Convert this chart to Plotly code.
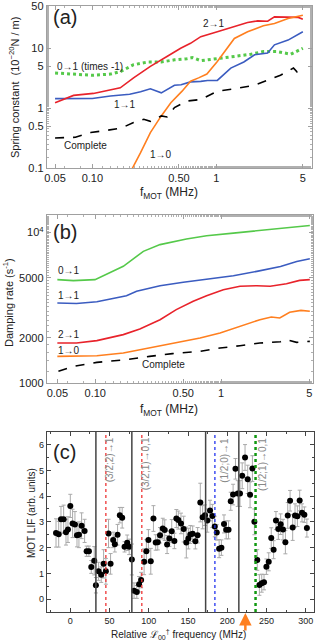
import math
import plotly.graph_objects as go

# ---------------- Panel (a): spring constant ----------------
a_f_21 = [0.05, 0.0705, 0.102, 0.168, 0.215, 0.294, 0.40, 0.516, 0.62, 0.75, 1.02, 1.4, 1.79, 2.16, 2.6, 2.95, 4.0, 4.6, 5.0]
a_k_21 = [1.23, 1.63, 1.76, 2.18, 3.19, 4.98, 7.3, 10.0, 12.1, 15.6, 18.9, 22.8, 26.9, 28.7, 28.3, 33.4, 32.5, 32.8, 30.5]

a_f_10 = [0.20, 0.21, 0.245, 0.294, 0.36, 0.43, 0.53, 0.62, 0.72, 0.84, 1.02, 1.4, 1.79, 2.4, 2.95, 3.8, 5.0]
a_k_10 = [0.085, 0.098, 0.18, 0.39, 0.74, 1.23, 1.92, 2.81, 3.2, 3.7, 6.0, 14.6, 18.9, 23.7, 26.0, 31.4, 35.5]

a_f_11 = [0.05, 0.1, 0.14, 0.2, 0.245, 0.294, 0.36, 0.40, 0.46, 0.52, 0.62, 0.75, 0.85, 1.02, 1.31, 1.67, 2.04, 2.6, 2.95, 3.8, 5.0]
a_k_11 = [1.44, 1.45, 1.59, 1.7, 1.87, 2.1, 1.8, 2.05, 2.41, 2.45, 2.74, 2.8, 2.9, 2.9, 4.67, 5.9, 7.8, 8.3, 11.4, 13.7, 18.9]

a_f_01 = [0.05, 0.075, 0.1, 0.14, 0.17, 0.215, 0.28, 0.36, 0.46, 0.58, 0.64, 0.75, 1.02, 1.4, 1.9, 2.4, 3.1, 4.0, 5.0]
a_k_01 = [3.86, 3.7, 3.53, 3.7, 4.11, 5.3, 5.9, 5.9, 6.4, 6.7, 7.0, 6.2, 6.8, 7.3, 7.95, 8.8, 8.8, 7.95, 10.0]

a_f_all = [0.05, 0.073, 0.097, 0.13, 0.17, 0.215, 0.26, 0.294, 0.36, 0.4, 0.46, 0.58, 0.75, 1.02, 1.4, 2.04, 2.6, 3.3, 4.2, 4.5, 5.0]
a_k_all = [0.317, 0.325, 0.39, 0.42, 0.46, 0.575, 0.65, 0.6, 0.74, 0.71, 1.02, 1.31, 1.39, 1.92, 2.1, 2.41, 2.9, 3.53, 4.67, 4.0, 4.2]

# ---------------- Panel (b): damping rate ----------------
b_f_01 = [0.05, 0.067, 0.0995, 0.167, 0.241, 0.327, 0.53, 0.766, 1.25, 2.03, 2.92, 5.06]
b_d_01 = [4855, 4780, 4855, 5950, 7480, 8290, 9040, 9500, 9890, 10300, 10700, 11100]

b_f_11 = [0.05, 0.071, 0.103, 0.177, 0.213, 0.327, 0.5, 0.766, 1.25, 1.92, 2.96, 3.98, 5.06]
b_d_11 = [3400, 3370, 3465, 3800, 4060, 4425, 4660, 4900, 5150, 5510, 5940, 6410, 6680]

b_f_21 = [0.05, 0.071, 0.103, 0.167, 0.226, 0.327, 0.44, 0.6, 0.766, 1.04, 1.41, 1.92, 2.45, 3.3, 4.2, 5.06]
b_d_21 = [1842, 1842, 1911, 2095, 2280, 2632, 3070, 3485, 3800, 4160, 4385, 4425, 4385, 4560, 4800, 4855]

b_f_10 = [0.05, 0.103, 0.167, 0.27, 0.41, 0.68, 0.98, 1.41, 2.03, 2.5, 2.92, 3.5, 4.3, 5.06]
b_d_10 = [1503, 1515, 1581, 1706, 1823, 1989, 2148, 2378, 2632, 2740, 2700, 2945, 3036, 2994]

b_f_all = [0.051, 0.067, 0.103, 0.177, 0.27, 0.41, 0.68, 0.98, 1.41, 2.03, 2.96, 3.3, 3.98, 5.06]
b_d_all = [1195, 1290, 1371, 1428, 1503, 1566, 1623, 1706, 1769, 1842, 1880, 1940, 1860, 1890]

# ---------------- Panel (c): MOT LIF ----------------
c_x = [-18.2, -14.8, -11.9, -8.5, -5.5, -3.0, 0.0, 2.9, 5.9, 8.5, 11.0, 14.4, 18.2, 20.8, 23.7, 26.7, 30.5,
       32.6, 36.0, 39.4, 42.4, 45.3, 48.7, 51.3, 54.6, 56.7, 60.2, 63.1, 66.1, 69.1, 72.5, 75.0, 78.4,
       81.2, 84.7, 87.6, 90.2, 94.0, 96.9, 99.5, 102.5, 105.9, 108.8, 111.4, 114.3, 117.8, 120.3, 123.3, 126.2,
       129.2, 132.6, 135.1, 137.6, 141.0, 144.4, 147.8, 150.4, 152.9, 155.9, 159.3, 162.2,
       165.6, 168.6, 171.6, 174.6, 178.0, 181.0, 184.0, 186.6, 189.6, 192.5, 195.8, 198.6, 201.6, 204.4, 207.4,
       210.4, 213.3, 216.2, 219.0, 222.6, 226.0, 229.0, 232.0, 234.5, 238.2, 240.9, 243.9, 246.8, 249.8, 252.8,
       256.0, 259.0, 262.0, 265.0, 268.0, 271.0, 274.0, 277.0, 280.0, 283.3, 286.3, 289.3, 292.2, 295.2, 298.2, 301.4]
c_y = [2.57, 2.52, 3.1, 3.1, 2.6, 2.7, 3.62, 2.94, 2.9, 2.48, 2.5, 2.85, 2.65, 1.86, 1.86, 1.25, 1.49,
       0.54, 1.08, 0.95, 1.37, 1.08, 2.55, 1.37, 2.3, 2.13, 2.5, 3.26, 3.16, 2.03, 2.19, 2.03, 1.54,
       0.33, 0.28, 0.58, 0.74, 1.45, 1.86, 2.3, 1.47, 3.13, 2.2, 2.21, 2.48, 2.74, 2.68, 2.12, 2.35,
       2.64, 2.26, 3.13, 3.07, 2.94, 2.72, 2.2, 2.35, 2.51, 2.54, 2.25, 2.48,
       3.75, 3.18, 3.26, 3.05, 3.44, 3.23, 2.82, 2.59, 1.96, 2.0, 2.92, 2.69, 2.69, 3.8, 4.06,
       5.06, 4.1, 4.1, 4.79, 5.5, 4.65, 4.05, 5.07, 3.0, 1.52, 0.55, 0.62, 0.66, 1.26, 1.45,
       2.37, 1.92, 3.05, 2.72, 2.91, 2.7, 2.21, 3.25, 3.82, 2.78, 3.25, 3.22, 3.83, 3.35, 3.28, 2.76]
c_err = [0.55, 0.5, 0.5, 0.55, 0.5, 0.5, 0.45, 0.55, 0.5, 0.45, 0.5, 0.5, 0.45, 0.2, 0.2, 0.25, 0.55,
         0.3, 0.35, 0.3, 0.55, 0.5, 0.55, 0.4, 0.3, 0.3, 0.4, 0.3, 0.4, 0.2, 0.3, 0.3, 0.6,
         0.3, 0.25, 0.3, 0.3, 0.5, 0.45, 0.4, 0.5, 0.5, 0.3, 0.3, 0.3, 0.4, 0.4,
         0.35, 0.3, 0.45, 0.3, 0.35, 0.35, 0.4, 0.5, 0.6, 0.4, 0.35, 0.3, 0.3, 0.3,
         0.75, 0.45, 0.4, 0.45, 0.4, 0.45, 0.4, 0.3, 0.35, 0.3, 0.35, 0.35, 0.35, 0.35, 0.4,
         0.4, 0.5, 0.5, 0.5, 0.5, 0.55, 0.5, 0.5, 0.5, 0.4, 0.4, 0.35, 0.3, 0.3, 0.35,
         0.4, 0.35, 0.35, 0.4, 0.4, 0.4, 0.45, 0.5, 0.4, 0.5, 0.45, 0.4, 0.4, 0.35, 0.3, 0.35]
n = min(len(c_x), len(c_y), len(c_err))
c_x, c_y, c_err = c_x[:n], c_y[:n], c_err[:n]

c_solid_lines = [32.6, 78.4, 172.4, 214.7]
c_dashed_lines = [(45.3, "#ee3333"), (91.1, "#ee3333"), (184.2, "#2233ee"), (236.0, "#119911")]
c_labels = [(49.5, "(3/2;2)→1"), (95.5, "(3/2;1)→0,1"), (195.5, "(1/2;0)→1"), (244.0, "(1/2;1)→0,1")]
c_arrow_x = 223.0

RED = "#e8232b"
ORANGE = "#ff7f1f"
BLUE = "#3b5cc0"
GREEN = "#55c94a"
FONT = "Liberation Sans, Arial, sans-serif"

fig = go.Figure()

def lin(x, y, xa, ya, color, dash="solid", width=1.6):
    fig.add_trace(go.Scatter(x=x, y=y, xaxis=xa, yaxis=ya, mode="lines",
                             line=dict(color=color, dash=dash, width=width),
                             showlegend=False, hoverinfo="skip"))

lin(a_f_01, a_k_01, "x", "y", GREEN, "dot", 3)
lin(a_f_11, a_k_11, "x", "y", BLUE)
lin(a_f_21, a_k_21, "x", "y", RED)
lin(a_f_10, a_k_10, "x", "y", ORANGE)
lin(a_f_all, a_k_all, "x", "y", "black", "dash")

lin(b_f_01, b_d_01, "x2", "y2", GREEN)
lin(b_f_11, b_d_11, "x2", "y2", BLUE)
lin(b_f_21, b_d_21, "x2", "y2", RED)
lin(b_f_10, b_d_10, "x2", "y2", ORANGE)
lin(b_f_all, b_d_all, "x2", "y2", "black", "dash")

fig.add_trace(go.Scatter(x=c_x, y=c_y, xaxis="x3", yaxis="y3", mode="markers",
                         marker=dict(color="black", size=6),
                         error_y=dict(type="data", array=c_err, color="#aaaaaa", thickness=1, width=2),
                         showlegend=False, hoverinfo="skip"))

shapes = []
for xv in c_solid_lines:
    shapes.append(dict(type="line", xref="x3", yref="y3", x0=xv, x1=xv, y0=-0.5, y1=6.5,
                       line=dict(color="#444444", width=1.5)))
for xv, col in c_dashed_lines:
    w = 2.5 if col == "#119911" else 1.3
    shapes.append(dict(type="line", xref="x3", yref="y3", x0=xv, x1=xv, y0=-0.5, y1=6.5,
                       line=dict(color=col, width=w, dash="dot")))

ann = []
def t(text, x, y, xref, yref, size=10, xanchor="center", yanchor="middle", color="#222", angle=0):
    ann.append(dict(text=text, x=x, y=y, xref=xref, yref=yref, showarrow=False,
                    font=dict(size=size, color=color, family=FONT), xanchor=xanchor,
                    yanchor=yanchor, textangle=angle))

L = math.log10
# panel (a) labels
t("(a)", 0.205, 0.973, "paper", "paper", size=20)
t("2→1", L(0.96), L(25.9), "x", "y")
t("0→1 (times -1)", L(0.05), L(4.98), "x", "y", xanchor="left")
t("1→1", L(0.185), L(1.13), "x", "y")
t("Complete", L(0.057), L(0.237), "x", "y", xanchor="left")
t("1→0", L(0.355), L(0.168), "x", "y")
# panel (b) labels
t("(b)", 0.205, 0.638, "paper", "paper", size=20)
t("0→1", L(0.049), L(5570), "x2", "y2", xanchor="left")
t("1→1", L(0.049), L(3800), "x2", "y2", xanchor="left")
t("2→1", L(0.049), L(2095), "x2", "y2", xanchor="left")
t("1→0", L(0.049), L(1650), "x2", "y2", xanchor="left")
t("Complete", L(0.347), L(1336), "x2", "y2")
# panel (c) labels
t("(c)", 0.205, 0.295, "paper", "paper", size=20)
for xv, txt in c_labels:
    t(txt, xv, 6.35, "x3", "y3", size=10, xanchor="center", yanchor="top", color="#888888", angle=-90)

# axis titles
t("f<sub>MOT</sub> (MHz)", 0.535, 1 - 193 / 641, "paper", "paper", size=12)
t("f<sub>MOT</sub> (MHz)", 0.535, 1 - 410 / 641, "paper", "paper", size=12)
t("Spring constant  (10<sup>−20</sup>N / m)", 14 / 316, 1 - 88 / 641, "paper", "paper", size=11, angle=-90)
t("Damping rate (s<sup>-1</sup>)", 8 / 316, 1 - 303 / 641, "paper", "paper", size=11, angle=-90)
t("MOT LIF (arb. units)", 31 / 316, 1 - 513 / 641, "paper", "paper", size=10, angle=-90)
t("Relative ℒ<sub>00</sub><sup>†</sup> frequency (MHz)", 0.565, 1 - 634 / 641, "paper", "paper", size=10)

ann.append(dict(x=c_arrow_x, y=1 - 613 / 641, xref="x3", yref="paper", text="", showarrow=True,
                ax=0, ay=19, arrowhead=2, arrowsize=1, arrowwidth=2.5, arrowcolor=ORANGE))

frame_a = dict(showline=True, linecolor="#a0a0a0", linewidth=1, mirror="ticks", ticks="inside",
               tickcolor="#a0a0a0", ticklen=4, showgrid=False, zeroline=False,
               tickfont=dict(size=11, color="#222", family=FONT))
fx = [0.05, 0.1, 0.5, 1, 5]
fxt = ["0.05", "0.10", "0.50", "1", "5"]

fig.update_layout(
    width=316, height=641, margin=dict(l=0, r=0, t=0, b=0, autoexpand=False),
    paper_bgcolor="white", plot_bgcolor="white", font=dict(family=FONT),
    xaxis=dict(type="log", range=[-1.368, 0.772], domain=[0.148, 0.987], anchor="y",
               tickvals=fx, ticktext=fxt,
               minor=dict(ticks="inside", ticklen=2, tickcolor="#b0b0b0"), **frame_a),
    yaxis=dict(type="log", range=[-1, 1.71], domain=[0.738, 0.991], anchor="x",
               tickvals=[0.1, 0.5, 1, 5, 10, 50], ticktext=["0.1", "0.5", "1", "5", "10", "50"],
               minor=dict(ticks="inside", ticklen=2, tickcolor="#b0b0b0"), **frame_a),
    xaxis2=dict(type="log", range=[-1.385, 0.728], domain=[0.148, 0.990], anchor="y2",
                tickvals=fx, ticktext=fxt,
                minor=dict(ticks="inside", ticklen=2, tickcolor="#b0b0b0"), **frame_a),
    yaxis2=dict(type="log", range=[3, 4.117], domain=[0.4025, 0.665], anchor="x2",
                tickvals=[1000, 2000, 5000, 10000], ticktext=["1000", "2000", "5000", "10<sup>4</sup>"],
                minor=dict(ticks="inside", ticklen=2, tickcolor="#b0b0b0"), **frame_a),
    xaxis3=dict(range=[-30, 311], domain=[0.148, 0.995], anchor="y3",
                tickvals=[0, 50, 100, 150, 200, 250, 300], showline=True, linecolor="#444",
                mirror="ticks", ticks="inside", ticklen=4, tickcolor="#444", showgrid=False,
                zeroline=False, tickfont=dict(size=9, color="#222", family=FONT),
                minor=dict(dtick=25, ticks="inside", ticklen=2, tickcolor="#444")),
    yaxis3=dict(range=[-0.5, 6.5], domain=[0.0452, 0.3265], anchor="x3",
                tickvals=[0, 1, 2, 3, 4, 5, 6], showline=True, linecolor="#444",
                mirror="ticks", ticks="inside", ticklen=4, tickcolor="#444", showgrid=False,
                zeroline=False, tickfont=dict(size=9, color="#222", family=FONT),
                minor=dict(dtick=0.5, ticks="inside", ticklen=2, tickcolor="#444")),
    shapes=shapes, annotations=ann,
)

fig.write_html("out.html",
               config={"displayModeBar": False, "staticPlot": True},
               post_script="document.body.style.margin='0';document.body.style.padding='0';"
                           "document.body.style.overflow='hidden';")
